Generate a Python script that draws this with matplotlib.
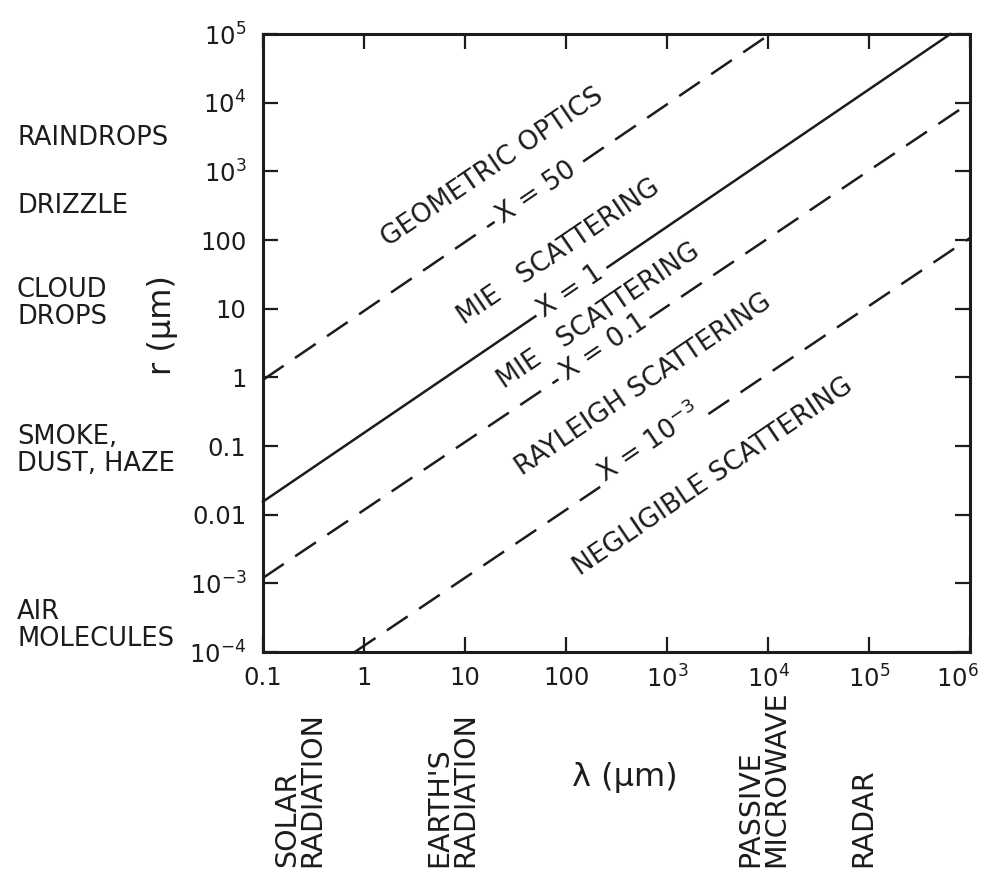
import numpy as np
import matplotlib
matplotlib.use('Agg')
import matplotlib.pyplot as plt
from matplotlib.ticker import FixedLocator, FixedFormatter, NullLocator
from matplotlib.transforms import blended_transform_factory, ScaledTranslation

plt.rcParams['font.family'] = ['DejaVu Sans']
plt.rcParams['mathtext.fontset'] = 'dejavusans'

# ---------------- data ----------------
x_ticks = [0.1, 1, 10, 100, 1e3, 1e4, 1e5, 1e6]
x_tick_labels = ['0.1', '1', '10', '100', '$10^3$', '$10^4$', '$10^5$', '$10^6$']
y_ticks = [1e-4, 1e-3, 0.01, 0.1, 1, 10, 100, 1e3, 1e4, 1e5]
y_tick_labels = ['$10^{-4}$', '$10^{-3}$', '0.01', '0.1', '1', '10', '100',
                 '$10^3$', '$10^4$', '$10^5$']

# size-parameter boundary lines (end points)
boundary_labels = ['X = 50', 'X = 1', 'X = 0.1', 'X = $10^{-3}$']
boundary_lam_start = [0.1, 0.1, 0.1, 0.81]
boundary_r_start = [0.92, 0.0155, 0.0012, 1e-4]
boundary_lam_end = [1.05e4, 6.4e5, 1e6, 1e6]
boundary_r_end = [1e5, 1e5, 1.0e4, 107]
boundary_label_lam = [51, 112, 235, 660]
boundary_label_r = [480, 18, 2.7, 0.11]

# scattering regime labels
regime_labels = ['GEOMETRIC OPTICS', 'MIE   SCATTERING', 'MIE   SCATTERING',
                 'RAYLEIGH SCATTERING', 'NEGLIGIBLE SCATTERING']
regime_lam = [18.6, 85, 210, 590, 2900]
regime_r = [1120, 66, 7.7, 0.78, 0.036]

# particle types (left) and spectral regions (bottom)
particle_labels = ['RAINDROPS', 'DRIZZLE', 'CLOUD\nDROPS', 'SMOKE,\nDUST, HAZE',
                   'AIR\nMOLECULES']
particle_r = [10**3.48, 10**2.49, 10**1.07, 10**-1.07, 10**-3.62]

region_labels = ['SOLAR\nRADIATION', "EARTH'S\nRADIATION", 'PASSIVE\nMICROWAVE', 'RADAR']
region_lam = [0.23, 7.5, 8900, 8.7e4]

# ---------------- figure ----------------
ink = '#1c1c1c'
fig = plt.figure(figsize=(9.85, 8.71), dpi=100)
ax = fig.add_axes([263 / 985, 1 - 652 / 871, 707 / 985, 618 / 871])
ax.set_xscale('log')
ax.set_yscale('log')
ax.set_xlim(x_ticks[0], x_ticks[-1])
ax.set_ylim(y_ticks[0], y_ticks[-1])

ax.xaxis.set_major_locator(FixedLocator(x_ticks))
ax.xaxis.set_major_formatter(FixedFormatter(x_tick_labels))
ax.yaxis.set_major_locator(FixedLocator(y_ticks))
ax.yaxis.set_major_formatter(FixedFormatter(y_tick_labels))
ax.xaxis.set_minor_locator(NullLocator())
ax.yaxis.set_minor_locator(NullLocator())
ax.tick_params(which='major', direction='in', length=11, width=1.6,
               top=True, right=True, color=ink, labelcolor=ink, labelsize=17.5)
ax.tick_params(axis='x', pad=10)
ax.tick_params(axis='y', pad=12)
for sp in ax.spines.values():
    sp.set_linewidth(2.2)
    sp.set_color(ink)

styles = ['dashed', 'solid', 'dashed', 'dashed']
for i in range(len(boundary_labels)):
    ls = (0, (10, 5.5)) if styles[i] == 'dashed' else '-'
    ax.plot([boundary_lam_start[i], boundary_lam_end[i]],
            [boundary_r_start[i], boundary_r_end[i]],
            color=ink, lw=1.8, linestyle=ls, zorder=2, clip_on=False)

# angle of slope-1 lines on screen
p1 = ax.transData.transform((1, 1))
p2 = ax.transData.transform((10, 10))
angle = np.degrees(np.arctan2(p2[1] - p1[1], p2[0] - p1[0]))

for i, lab in enumerate(boundary_labels):
    ax.text(boundary_label_lam[i], boundary_label_r[i], lab, rotation=angle,
            rotation_mode='anchor', ha='center', va='center', fontsize=19,
            color=ink, zorder=3,
            bbox=dict(facecolor='white', edgecolor='none', pad=4))

for i, lab in enumerate(regime_labels):
    ax.text(regime_lam[i], regime_r[i], lab, rotation=angle,
            rotation_mode='anchor', ha='center', va='center', fontsize=19,
            color=ink, zorder=5)

# left particle labels
tr_left = blended_transform_factory(fig.transFigure, ax.transData)
for lab, r in zip(particle_labels, particle_r):
    fig.text(17 / 985, r, lab, transform=tr_left, ha='left', va='center',
             fontsize=18.5, color=ink, linespacing=1.05)

# bottom spectral region labels
tr_bot = blended_transform_factory(ax.transData, ax.transAxes)
for lab, lam in zip(region_labels, region_lam):
    ax.text(lam, -(867 - 652) / 618, lab, transform=tr_bot, rotation=90,
            ha='center', va='bottom', multialignment='left', fontsize=20.5,
            color=ink, linespacing=0.9, clip_on=False)

ax.set_xlabel('λ (μm)', fontsize=23, color=ink)
ax.xaxis.set_label_coords((625 - 263) / 707, -(777 - 652) / 618)
ax.xaxis.label.set_va('center')
ax.set_ylabel('r (μm)', fontsize=23, color=ink)
ax.yaxis.set_label_coords((163 - 263) / 707, (652 - 325) / 618)
ax.yaxis.label.set_va('center')

# keep the last x tick label inside the picture
fig.canvas.draw()
last = ax.get_xticklabels()[-1]
last.set_transform(last.get_transform() +
                   ScaledTranslation(-0.13, 0, fig.dpi_scale_trans))

fig.savefig('out.png', dpi=100, facecolor='white')
